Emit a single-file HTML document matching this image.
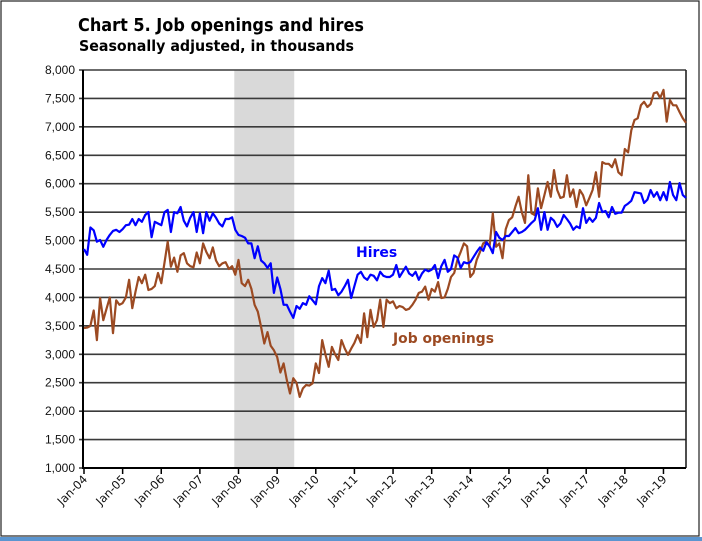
<!DOCTYPE html>
<html><head><meta charset="utf-8"><style>
html,body{margin:0;padding:0;background:#fff;}
svg{display:block;}
</style></head><body>
<svg id="chart" width="702" height="541" xmlns="http://www.w3.org/2000/svg" font-family="Liberation Sans, sans-serif">
<rect x="0" y="0" width="702" height="541" fill="#fff"/>
<rect x="1" y="1" width="698" height="535" fill="none" stroke="#222" stroke-width="1.2"/>
<rect x="0" y="537" width="702" height="4" fill="#5b95d0"/>
<text x="78" y="31" font-family="DejaVu Sans, sans-serif" font-weight="bold" font-size="18" textLength="286" lengthAdjust="spacingAndGlyphs">Chart 5. Job openings and hires</text>
<text x="79" y="51" font-family="DejaVu Sans, sans-serif" font-weight="bold" font-size="15" textLength="275" lengthAdjust="spacingAndGlyphs">Seasonally adjusted, in thousands</text>
<g id="plot"></g>
</svg>
<script>
const yTicks=[1000,1500,2000,2500,3000,3500,4000,4500,5000,5500,6000,6500,7000,7500,8000];
const xTickLabels=["Jan-04","Jan-05","Jan-06","Jan-07","Jan-08","Jan-09","Jan-10","Jan-11","Jan-12","Jan-13","Jan-14","Jan-15","Jan-16","Jan-17","Jan-18","Jan-19"];
const startYear=2004;
const recessionStart=47; // month index Dec 2007
const recessionEnd=65;   // month index Jun 2009
const hires=[
4850,4750,5230,5180,4980,5010,4890,5010,5100,5170,5190,5150,
5200,5270,5280,5380,5270,5380,5330,5450,5500,5060,5330,5300,
5270,5500,5540,5150,5500,5480,5590,5350,5250,5400,5500,5150,
5480,5130,5500,5350,5480,5400,5300,5250,5380,5380,5410,5190,
5100,5080,5050,4950,4950,4690,4900,4650,4600,4520,4600,4080,
4350,4150,3870,3870,3750,3640,3850,3800,3900,3870,4020,3950,
3880,4200,4340,4250,4470,4130,4150,4040,4100,4200,4310,3990,
4200,4400,4450,4350,4310,4400,4380,4300,4450,4380,4360,4360,
4400,4570,4360,4450,4540,4420,4380,4450,4310,4420,4490,4460,
4490,4570,4340,4550,4660,4450,4500,4740,4700,4520,4620,4600,
4620,4710,4800,4880,4820,4970,4900,4780,5150,5050,5010,5080,
5080,5150,5220,5130,5150,5190,5250,5310,5360,5570,5190,5500,
5190,5400,5350,5240,5300,5450,5380,5300,5190,5250,5220,5570,
5310,5400,5330,5400,5660,5500,5520,5410,5590,5470,5490,5490,
5610,5650,5700,5850,5840,5830,5660,5720,5890,5770,5850,5710,
5850,5710,6030,5800,5710,6010,5800,5750];
const openings=[
3460,3470,3500,3770,3250,3990,3600,3800,4000,3370,3950,3870,
3900,4000,4310,3810,4100,4360,4250,4400,4130,4150,4200,4430,
4250,4610,4980,4540,4700,4450,4740,4780,4600,4550,4530,4790,
4600,4950,4800,4690,4880,4650,4550,4600,4620,4500,4550,4400,
4660,4250,4200,4310,4150,3870,3750,3480,3190,3390,3150,3070,
2950,2680,2840,2550,2310,2580,2500,2250,2400,2460,2450,2490,
2840,2670,3250,3000,2780,3130,3000,2900,3250,3100,2990,3100,
3200,3340,3200,3720,3300,3780,3480,3600,3960,3480,3960,3900,
3930,3810,3850,3830,3780,3800,3870,3960,4080,4100,4190,3960,
4150,4100,4270,3990,4000,4150,4360,4430,4660,4800,4950,4900,
4360,4430,4660,4800,4950,4980,4900,5480,4890,4950,4690,5200,
5360,5410,5600,5770,5500,5310,6150,5480,5450,5920,5570,5800,
6030,5770,6240,5890,5750,5770,6150,5770,5900,5590,5890,5800,
5620,5750,5890,6200,5770,6380,6350,6350,6290,6430,6200,6150,
6610,6550,6940,7120,7150,7380,7440,7350,7400,7590,7610,7510,
7650,7090,7470,7380,7380,7260,7150,7070];

const NS="http://www.w3.org/2000/svg";
const g=document.getElementById('plot');
const L=84,R=686,T=70,B=468,nMonths=hires.length;
const xs=i=>L+i*(R-L)/(nMonths-1);
const ys=v=>B-(v-1000)/(8000-1000)*(B-T);
function mk(tag,attrs){const e=document.createElementNS(NS,tag);for(const k in attrs)e.setAttribute(k,attrs[k]);g.appendChild(e);return e;}

const shade=mk('rect',{x:xs(recessionStart)-1,y:T,width:xs(recessionEnd)-xs(recessionStart)+2,height:B-T,fill:'#d9d9d9'});



yTicks.forEach(v=>{
  const y=ys(v);
  const gl=mk('line',{x1:L-5,x2:R,y1:y,y2:y,stroke:'#3a3a3a','stroke-width':1.6});
  
  
  const t=mk('text',{x:L-9,y:y+4,'text-anchor':'end','font-size':12,fill:'#111'});
  t.textContent=v.toLocaleString('en-US');
  
  
});

const rightAxis=mk('line',{x1:R,x2:R,y1:T,y2:B,stroke:'#222','stroke-width':1.6});


const yAxis=mk('line',{x1:L-1,x2:L-1,y1:T,y2:B+1,stroke:'#000','stroke-width':2});


const xAxis=mk('line',{x1:L-1,x2:R,y1:B,y2:B,stroke:'#000','stroke-width':2});



xTickLabels.forEach((lab,k)=>{
  const x=xs(k*12);
  const tk=mk('line',{x1:x,x2:x,y1:B,y2:B+6,stroke:'#000','stroke-width':1.5});
  
  
  const t=mk('text',{x:x+4,y:B+12,'text-anchor':'end','font-family':'DejaVu Sans, sans-serif','font-size':11.5,fill:'#111',transform:`rotate(-45 ${x+4} ${B+12})`});
  t.textContent=lab;
  
  
});

function series(arr,color,name){
  const d=arr.map((v,i)=>(i?'L':'M')+xs(i).toFixed(1)+' '+ys(v).toFixed(1)).join(' ');
  const p=mk('path',{d:d,fill:'none',stroke:color,'stroke-width':2.2,'stroke-linejoin':'round'});
  
  
}
series(openings,'#9c4a22','job-openings-line');
series(hires,'#0000ff','hires-line');

const lh=mk('text',{x:356,y:257,'font-family':'DejaVu Sans, sans-serif','font-weight':'bold','font-size':14,fill:'#0000ff'});
lh.textContent='Hires';


const lo=mk('text',{x:393,y:343,'font-family':'DejaVu Sans, sans-serif','font-weight':'bold','font-size':14,fill:'#9c4a22',textLength:101,lengthAdjust:'spacingAndGlyphs'});
lo.textContent='Job openings';


</script>
</body></html>
